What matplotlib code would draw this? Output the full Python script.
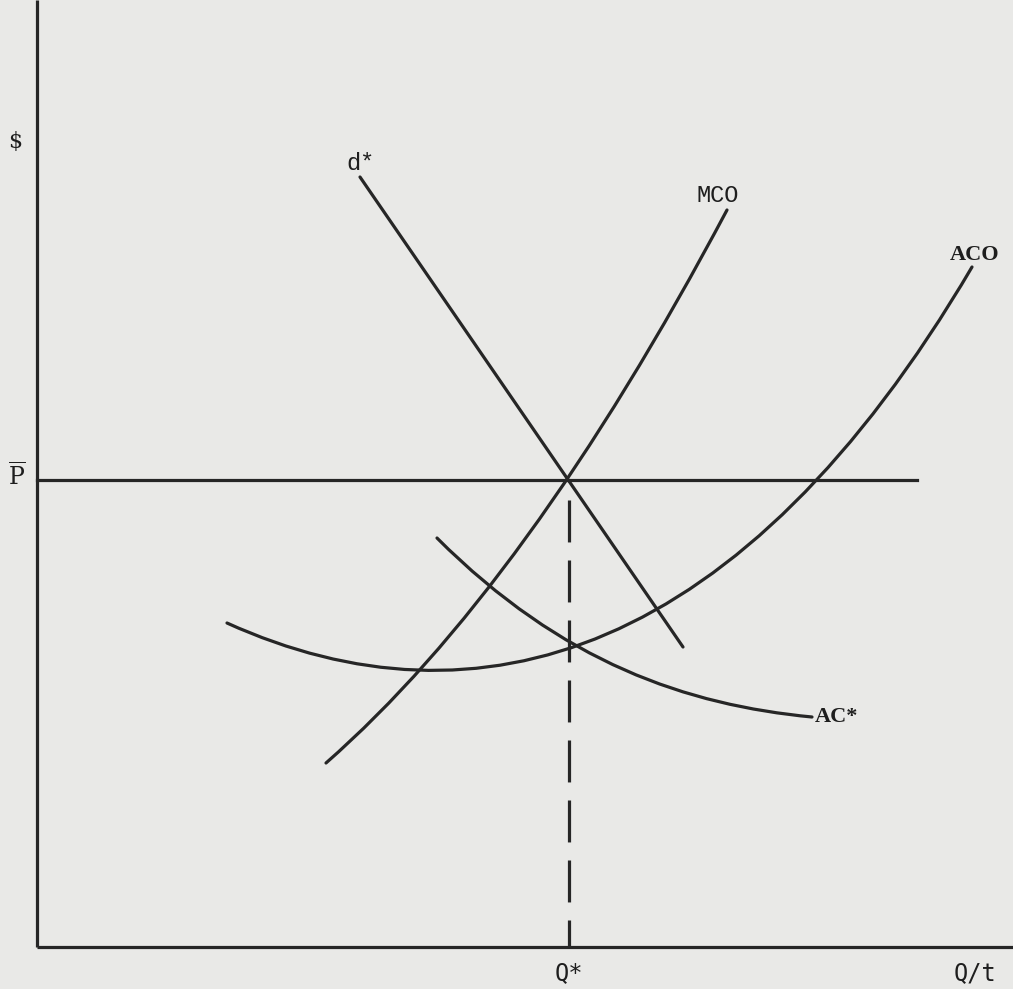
import numpy as np
import matplotlib
matplotlib.use('Agg')
import matplotlib.pyplot as plt
from matplotlib.path import Path
from matplotlib.patches import PathPatch

plt.rcParams['lines.scale_dashes'] = False
plt.rcParams['mathtext.fontset'] = 'dejavuserif'

# demand line d*: end points (quantity, price), origin at the axis corner
d_q = [323, 646]
d_p = [770, 300]

# cost curves as bezier anchor / control points
mco_q = [289, 490, 690]
mco_p = [184, 360, 737]

aco_q = [190, 440, 705, 935]
aco_p = [324, 211, 289, 680]

acs_q = [400, 525, 650, 775]
acs_p = [409, 284, 242, 230]

p_bar = 467
q_star = 532
q_max = 880

line_col = '#262626'
bg = '#e9e9e7'
lw = 2.3

fig = plt.figure(figsize=(10.13, 9.89), dpi=100, facecolor=bg)
ax = fig.add_axes([0, 0, 1, 1], facecolor=bg)
ax.set_xlim(-37, 976)
ax.set_ylim(-42, 947)
ax.axis('off')


def curve(qs, ps):
    pts = list(zip(qs, ps))
    if len(pts) == 3:
        codes = [Path.MOVETO, Path.CURVE3, Path.CURVE3]
    else:
        codes = [Path.MOVETO, Path.CURVE4, Path.CURVE4, Path.CURVE4]
    ax.add_patch(PathPatch(Path(pts, codes), facecolor='none', edgecolor=line_col,
                           lw=lw, capstyle='round'))


# axes
ax.plot([0, 0], [0, 947], color=line_col, lw=lw, solid_capstyle='butt')
ax.plot([0, 976], [0, 0], color=line_col, lw=lw, solid_capstyle='butt')

# price line and Q* drop line
ax.plot([0, q_max], [p_bar, p_bar], color=line_col, lw=lw)
ax.plot([q_star, q_star], [p_bar, 0], color=line_col, lw=lw,
        linestyle=(28.8, (30.2, 13.0)), solid_capstyle='butt')

ax.plot(d_q, d_p, color=line_col, lw=lw, solid_capstyle='round')
curve(mco_q, mco_p)
curve(aco_q, aco_p)
curve(acs_q, acs_p)

txt = '#1e1e1e'
mono = 'Liberation Mono'
ax.text(-22, 805, '\\$', fontsize=16, family='DejaVu Serif', color=txt, ha='center', va='center')
ax.text(-20, p_bar + 3, r'$\overline{\mathrm{P}}$', fontsize=17, color=txt, ha='center', va='center')
ax.text(324, 784, 'd*', fontsize=17, family=mono, color=txt, ha='center', va='center')
ax.text(681, 752, 'MCO', fontsize=17, family=mono, color=txt, ha='center', va='center')
ax.text(938, 692, 'ACO', fontsize=16, family='Liberation Serif', weight='bold', color=txt,
        ha='center', va='center')
ax.text(778, 230, 'AC*', fontsize=16, family='Liberation Serif', weight='bold', color=txt,
        ha='left', va='center')
ax.text(q_star, -26, 'Q*', fontsize=17, family='DejaVu Sans Mono', color=txt, ha='center', va='center')
ax.text(938, -26, 'Q/t', fontsize=17, family='DejaVu Sans Mono', color=txt, ha='center', va='center')

fig.savefig('out.png', dpi=100, facecolor=bg)
